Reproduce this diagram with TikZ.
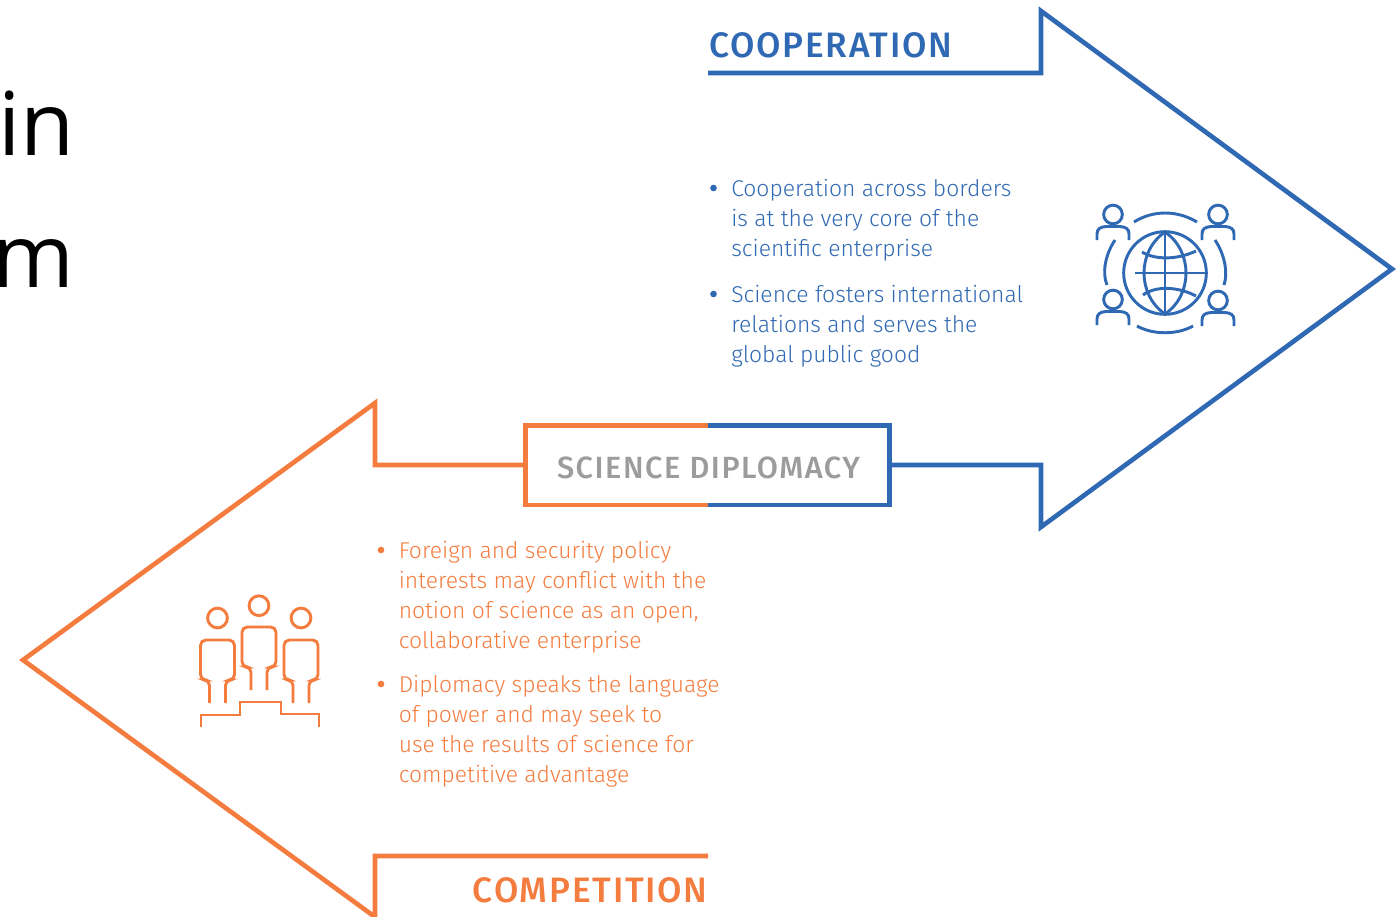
\documentclass[tikz,border=0pt]{standalone}
\usepackage{fontspec}
\setmainfont{Fira Sans}[UprightFont=* Light]
\newfontfamily\titlefont{Fira Sans}[UprightFont=* Medium,LetterSpace=5]
\newfontfamily\bigfont{Open Sans}
\definecolor{cblue}{HTML}{3069B3}
\definecolor{corange}{HTML}{F47C3F}
\definecolor{cgrey}{HTML}{9C9C9C}
\tikzset{
  arrowline/.style={line width=3.5pt,miter limit=10,line join=miter},
  framepart/.style={line width=3.6pt,line cap=butt},
  iconline/.style={line width=2.2pt,line cap=butt},
  bodytext/.style={anchor=base west,inner sep=0pt,font=\fontsize{17.15}{20}\selectfont},
  bluetext/.style={bodytext,text=cblue},
  orangetext/.style={bodytext,text=corange},
  titletext/.style={inner sep=0pt,font=\titlefont\fontsize{26.5}{30}\selectfont},
  scitext/.style={inner sep=0pt,font=\titlefont\fontsize{23}{30}\selectfont},
  bigtext/.style={anchor=base west,inner sep=0pt,text=black,font=\bigfont\fontsize{66}{70}\selectfont},
  bulletdot/.style={circle,inner sep=0pt,minimum size=5pt},
}
\newcommand{\personicon}[2]{%
  \begin{scope}[shift={(#1,#2)}]
    \draw[iconline,cblue] (0,-8.5) circle[radius=7pt];
    \draw[iconline,cblue] (-16,17) -- (-16,11) .. controls (-16,6) and (-13,4) .. (-7,3.5) -- (7,3.5) .. controls (13,4) and (16,6) .. (16,11) -- (16,17);
  \end{scope}}
\newcommand{\standicon}[3]{%
  \begin{scope}[shift={(#1,#2)}]
    \draw[iconline,corange] (0,#3) circle[radius=7.4pt];
    \draw[iconline,corange,rounded corners=4pt] (-8,118) -- (-8,95) -- (-17,95) -- (-17,55) -- (17,55) -- (17,95) -- (8,95) -- (8,118);
  \end{scope}}
\begin{document}
\begin{tikzpicture}[x=0.75pt,y=-0.75pt]
\clip (0,0) rectangle (1396,917);
\fill[white] (0,0) rectangle (1396,917);

% cropped slide text
\node[bigtext] (bigin) at (-2,155) {in};
\node[bigtext] (bigm) at (-8,287) {m};

% science diplomacy frame
\coordinate (frameTL) at (525.5,425.5);
\coordinate (frameTM) at (707.5,425.5);
\coordinate (frameTR) at (889.5,425.5);
\coordinate (frameBL) at (525.5,505);
\coordinate (frameBM) at (707.5,505);
\coordinate (frameBR) at (889.5,505);
\coordinate (frameL) at (525.5,465);
\coordinate (frameR) at (889.5,465);
\draw[framepart,corange] (frameTM) -- (frameTL) -- (frameBL) -- (frameBM);
\draw[framepart,cblue] (frameTM) -- (frameTR) -- (frameBR) -- (frameBM);

% blue arrow
\coordinate (bstart) at (708,73);
\coordinate (bneckT) at (1041,73);
\coordinate (bbarbT) at (1041,11);
\coordinate (btip) at (1392,269);
\coordinate (bbarbB) at (1041,527);
\coordinate (bneckB) at (1041,465);
\draw[arrowline,cblue] (bstart) -- (bneckT) -- (bbarbT) -- (btip) -- (bbarbB) -- (bneckB) -- (frameR);

% orange arrow
\coordinate (ostart) at (708,856);
\coordinate (oneckB) at (375,856);
\coordinate (obarbB) at (375,917);
\coordinate (otip) at (23,660);
\coordinate (obarbT) at (375,403);
\coordinate (oneckT) at (375,465);
\draw[arrowline,corange] (ostart) -- (oneckB) -- (obarbB) -- (otip) -- (obarbT) -- (oneckT) -- (frameL);

% titles
\node[titletext,anchor=base west,text=cblue] (ttlcoop) at (709,58) {COOPERATION};
\node[scitext,anchor=base,text=cgrey] (ttlsci) at (708.5,478) {SCIENCE DIPLOMACY};
\node[titletext,anchor=base east,text=corange] (ttlcomp) at (708,902) {COMPETITION};

% blue text
\node[bulletdot,fill=cblue] (bb1) at (713.5,188) {};
\node[bluetext] (bt1) at (731,196) {Cooperation across borders};
\node[bluetext] (bt2) at (731,226) {is at the very core of the};
\node[bluetext] (bt3) at (731,256) {scientific enterprise};
\node[bulletdot,fill=cblue] (bb2) at (713.5,294) {};
\node[bluetext] (bt4) at (731,302) {Science fosters international};
\node[bluetext] (bt5) at (731,332) {relations and serves the};
\node[bluetext] (bt6) at (731,362) {global public good};

% orange text
\node[bulletdot,fill=corange] (ob1) at (381,550) {};
\node[orangetext] (ot1) at (398.5,558) {Foreign and security policy};
\node[orangetext] (ot2) at (398.5,588) {interests may conflict with the};
\node[orangetext] (ot3) at (398.5,618) {notion of science as an open,};
\node[orangetext] (ot4) at (398.5,648) {collaborative enterprise};
\node[bulletdot,fill=corange] (ob2) at (381,684) {};
\node[orangetext] (ot5) at (398.5,692) {Diplomacy speaks the language};
\node[orangetext] (ot6) at (398.5,722) {of power and may seek to};
\node[orangetext] (ot7) at (398.5,752) {use the results of science for};
\node[orangetext] (ot8) at (398.5,782) {competitive advantage};

% globe icon
\begin{scope}[shift={(1165,273)}]
  \draw[iconline,cblue] (0,0) circle[radius=31pt];
  \draw[iconline,cblue] (0,-41) -- (0,41);
  \draw[iconline,cblue] (-30,0) -- (41,0);
  \draw[iconline,cblue] (0,-41) .. controls (-28,-22) and (-28,22) .. (0,41);
  \draw[iconline,cblue] (0,-41) .. controls (28,-22) and (28,22) .. (0,41);
  \draw[iconline,cblue] (-23,-21) .. controls (-10,-13) and (12,-13) .. (31,-22);
  \draw[iconline,cblue] (-22,22) .. controls (-10,13) and (12,13) .. (31,23);
  % ring arcs
  \draw[iconline,cblue] (-31,-51) .. controls (-12,-63) and (12,-63) .. (32,-51);
  \draw[iconline,cblue] (-28,53) .. controls (-12,62) and (12,62) .. (28,53);
  \draw[iconline,cblue] (-50,-33) .. controls (-60,-18) and (-63,0) .. (-58,12);
  \draw[iconline,cblue] (50,-33) .. controls (60,-18) and (63,0) .. (59,12);
\end{scope}
\personicon{1113}{223}
\personicon{1218}{223}
\personicon{1113}{308}
\personicon{1218}{309}

% podium icon
\standicon{217.5}{585}{33}
\standicon{259}{572}{33.7}
\standicon{301}{585}{33}
\draw[iconline,corange] (201,727) -- (201,715) -- (240,715) -- (240,702) -- (281,702) -- (281,714) -- (319,714) -- (319,727);
\end{tikzpicture}
\end{document}
